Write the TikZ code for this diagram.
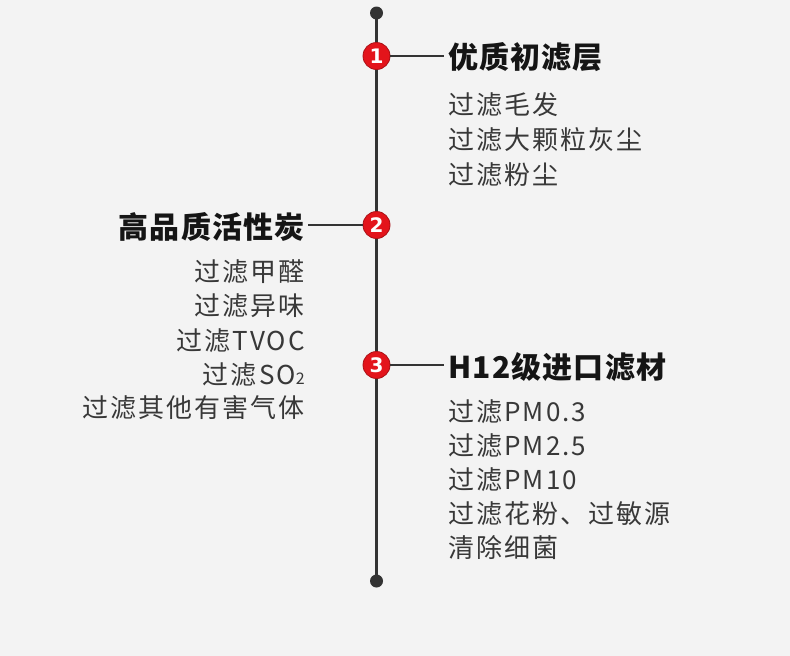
\documentclass[tikz,border=0pt]{standalone}
\usepackage{fontspec}
\setmainfont{Noto Sans CJK SC}
\newfontfamily\bodyfont{Noto Sans CJK SC}[LetterSpace=8]
\newfontfamily\titlefont{Noto Sans CJK SC}[LetterSpace=4]
\newfontfamily\numfont{DejaVu Sans}
\definecolor{bgc}{HTML}{F3F3F3}
\definecolor{linec}{HTML}{333333}
\definecolor{titlec}{HTML}{151515}
\definecolor{bodyc}{HTML}{383838}
\definecolor{numred}{HTML}{E3141B}
\begin{document}
\begin{tikzpicture}[x=1pt,y=-1pt,
  title/.style={font=\titlefont\bfseries\fontsize{30}{30}\selectfont, text=titlec, inner sep=0},
  body/.style={font=\bodyfont\fontsize{26}{26}\selectfont, text=bodyc, inner sep=0},
  num/.style={circle, fill=numred, draw=numred!75!black, line width=0.8pt, minimum size=27pt, inner sep=0, text=white, font=\numfont\bfseries\fontsize{20}{20}\selectfont},
  dot/.style={circle, fill=linec, minimum size=13pt, inner sep=0},
  conn/.style={draw=linec, line width=2.2pt}]
\fill[bgc] (0,0) rectangle (790,656);
\useasboundingbox (0,0) rectangle (790,656);
\node[dot] (top) at (376.5,13) {};
\node[dot] (bot) at (376.5,581) {};
\draw[conn] (top.center) -- (bot.center);
% item 1
\node[title, anchor=west] (t1) at (448,57) {优质初滤层};
\node[num] (c1) at (376.5,56) {1};
\draw[conn, line width=1.5pt] (c1.east) -- ([xshift=-4pt]c1.east -| t1.west);
\node[body, anchor=west] (b11) at (448,105) {过滤毛发};
\node[body, anchor=west] (b12) at (448,140) {过滤大颗粒灰尘};
\node[body, anchor=west] (b13) at (448,175) {过滤粉尘};
% item 2
\node[title, anchor=east] (t2) at (305,227) {高品质活性炭};
\node[num] (c2) at (376.5,225) {2};
\draw[conn, line width=1.5pt] (c2.west) -- ([xshift=3pt]c2.west -| t2.east);
\node[body, anchor=east] (b21) at (305,272) {过滤甲醛};
\node[body, anchor=east] (b22) at (305,306) {过滤异味};
\node[body, anchor=east] (b23) at (305,341) {过滤TVOC};
\node[body, anchor=east] (b24) at (305,375) {过滤SO{\fontsize{16}{16}\selectfont 2}};
\node[body, anchor=east] (b25) at (305,408) {过滤其他有害气体};
% item 3
\node[title, anchor=west] (t3) at (448,367) {H12级进口滤材};
\node[num] (c3) at (376.5,365) {3};
\draw[conn, line width=1.5pt] (c3.east) -- ([xshift=-4pt]c3.east -| t3.west);
\node[body, anchor=west] (b31) at (448,412) {过滤PM0.3};
\node[body, anchor=west] (b32) at (448,446) {过滤PM2.5};
\node[body, anchor=west] (b33) at (448,480) {过滤PM10};
\node[body, anchor=west] (b34) at (448,514) {过滤花粉、过敏源};
\node[body, anchor=west] (b35) at (448,548) {清除细菌};
\end{tikzpicture}
\end{document}
